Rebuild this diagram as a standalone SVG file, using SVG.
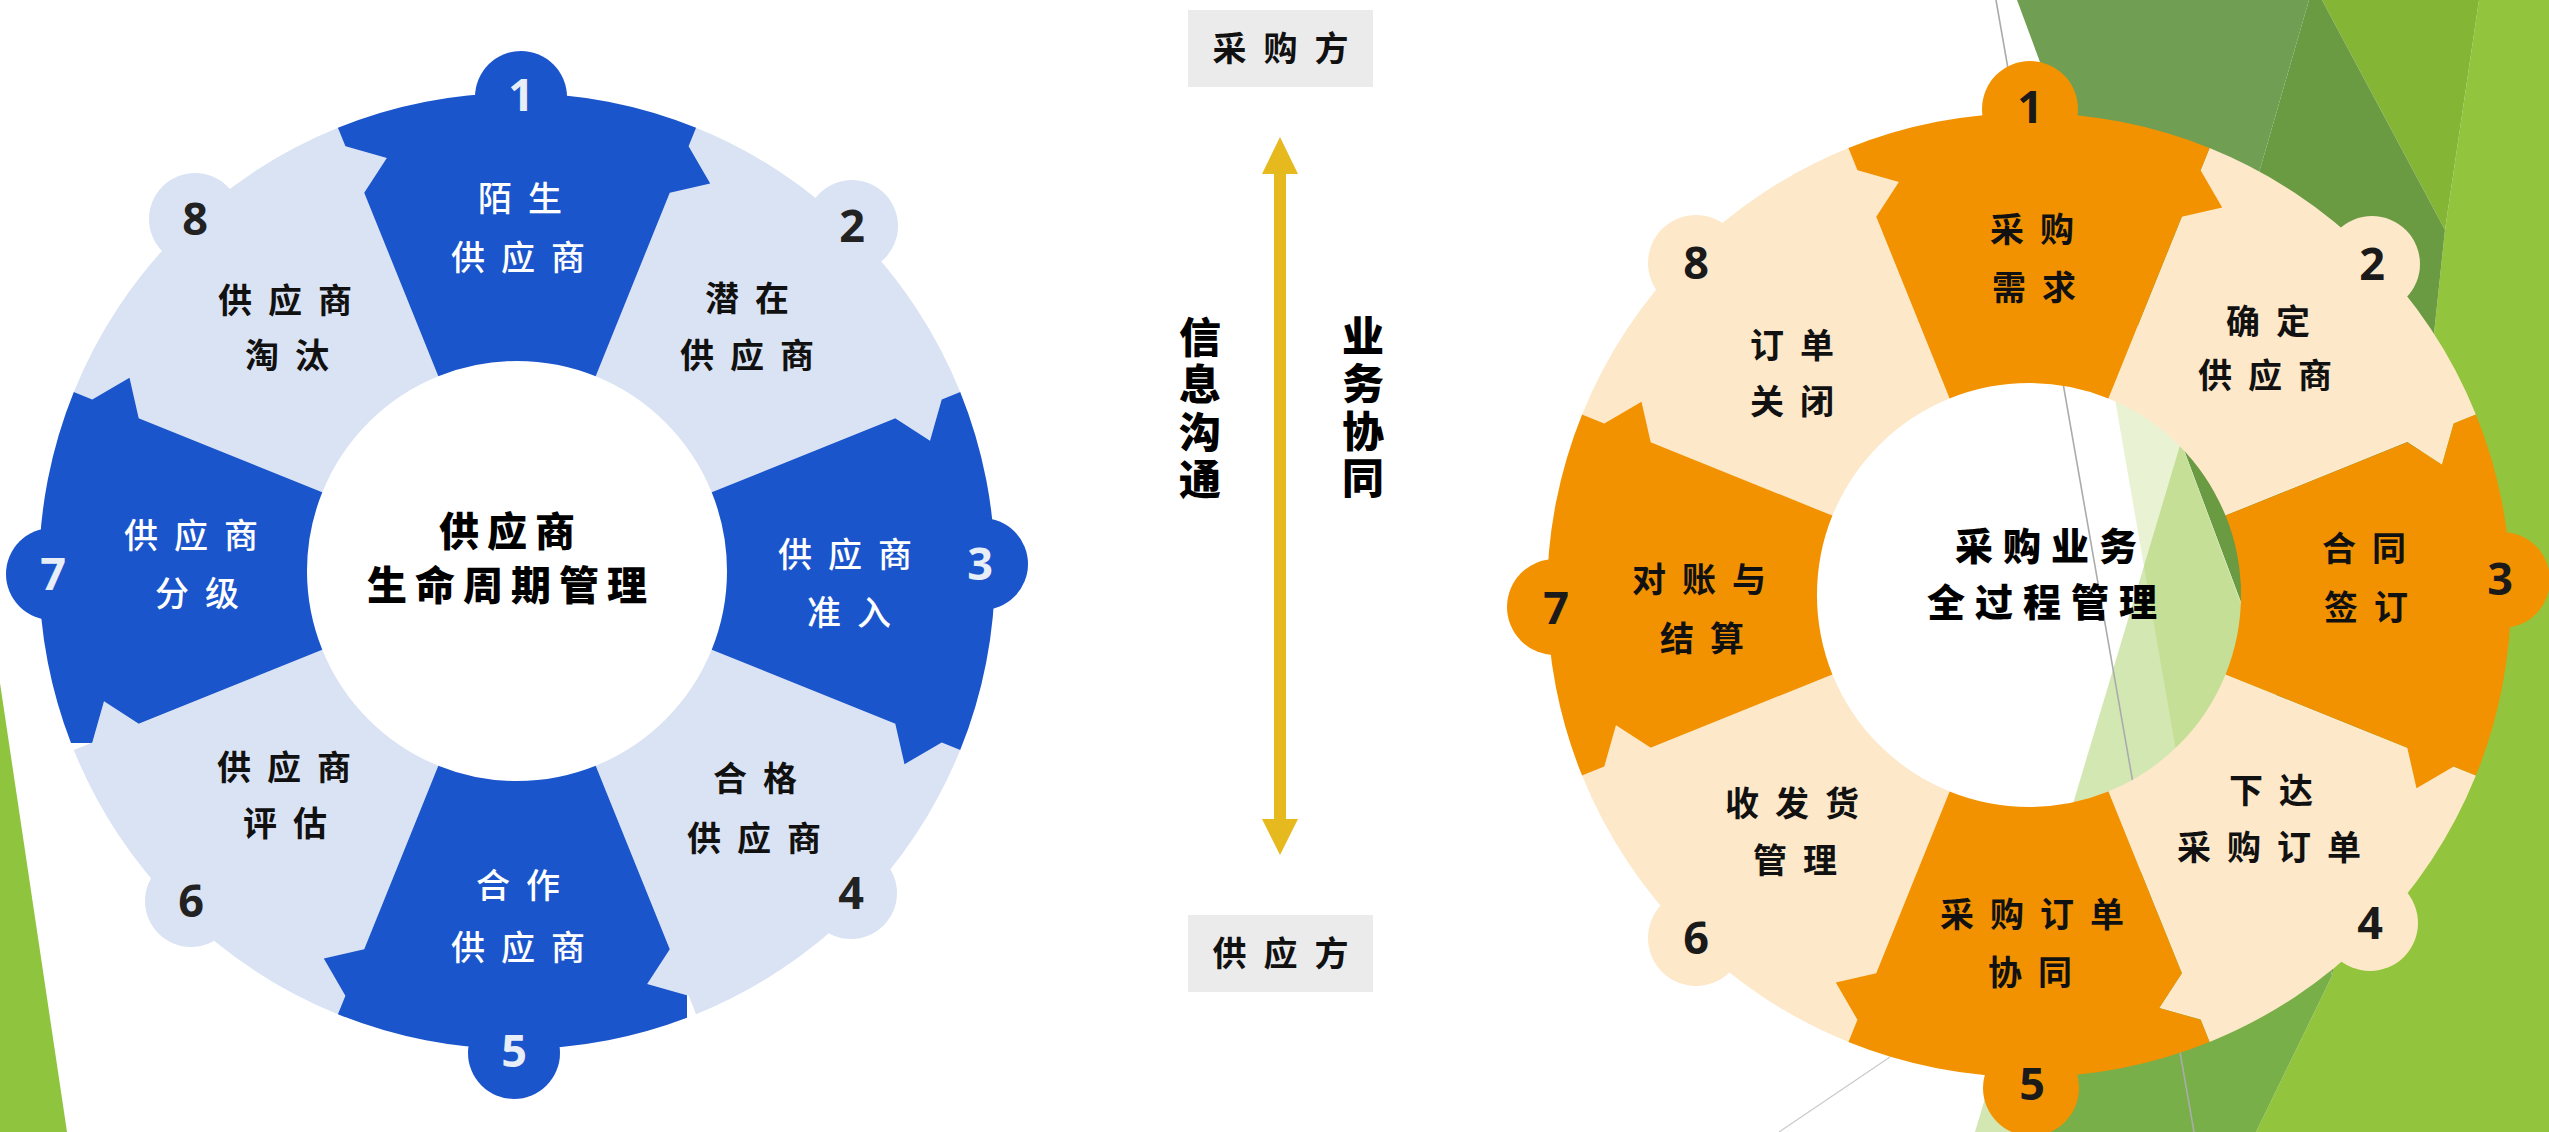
<svg xmlns="http://www.w3.org/2000/svg" width="2549" height="1132" viewBox="0 0 2549 1132">
<style>
.lbl{font-family:"Noto Sans CJK SC","Noto Sans CJK JP",sans-serif;font-size:34px;letter-spacing:16px;text-anchor:middle}
.w{fill:#ffffff;font-weight:500}
.k{fill:#111111;font-weight:700}
.ctr{font-family:"Noto Sans CJK SC","Noto Sans CJK JP",sans-serif;font-weight:900;text-anchor:middle;fill:#000000}
.num{font-family:"Open Sans","Liberation Sans",sans-serif;font-weight:700;font-size:45px;text-anchor:middle}
.vt{font-family:"Noto Sans CJK SC","Noto Sans CJK JP",sans-serif;font-weight:900;font-size:42px;letter-spacing:5.5px;fill:#000000;writing-mode:vertical-rl}
.box{fill:#EBEBEB}
.boxt{font-family:"Noto Sans CJK SC","Noto Sans CJK JP",sans-serif;font-size:34px;letter-spacing:17px;text-anchor:middle;fill:#111111;font-weight:700}
.bd{fill:#1B55CC}.bl{fill:#DAE3F3}
.od{fill:#F39200}.ol{fill:#FDE8C9}
</style>
<defs>
<path id="Ld" d="M-78.7-194.7L-152.8-378.3L-130.2-413L-171.6-424.7L-179.1-443.2A478 478 0 0 1 179.1-443.2L171.6-424.7L193.2-387.5L152.8-378.3L78.7-194.7A210 210 0 0 0-78.7-194.7Z"/>
<path id="Ll" d="M-82-193.3L-186.8-440A478 478 0 0 1 186.8-440L178.9-421.6L199.9-384.1L159.4-375.6L82-193.3A210 210 0 0 0-82-193.3Z"/>
<path id="Rd" d="M-79.4-196.6L-152.8-378.3L-130.2-413L-171.6-424.7L-180.6-446.9A482 482 0 0 1 180.6-446.9L171.6-424.7L193.2-387.5L152.8-378.3L79.4-196.6A212 212 0 0 0-79.4-196.6Z"/>
<path id="Rl" d="M-82.8-195.1L-188.3-443.7A482 482 0 0 1 188.3-443.7L178.9-421.6L199.9-384.1L159.4-375.6L82.8-195.1A212 212 0 0 0-82.8-195.1Z"/>
<clipPath id="cl7"><rect x="0" y="0" width="1100" height="743"/></clipPath>
<clipPath id="cl5"><rect x="0" y="0" width="687" height="1132"/></clipPath>
</defs>

<rect width="2549" height="1132" fill="#ffffff"/>

<g id="background">
<polygon points="0,683 67,1132 0,1132" fill="#8FC43F"/>
<polygon points="2479,0 2549,0 2549,1132 2256,1132 2332,976 2410,560 2445,230" fill="#93C43D"/>
<polygon points="2322,0 2479,0 2445,230" fill="#84B535"/>
<polygon points="2309,0 2322,0 2445,230 2410,560 2332,976 2300,760 2181,442" fill="#6A9B42"/>
<polygon points="2300,760 2332,976 2256,1132 2030,1132 2100,900" fill="#78AF48"/>
<polygon points="2017,0 2309,0 2181,442" fill="#709E52"/>
<polygon points="2181,442 2300,760 2100,900 2030,1132 1975,1132" fill="#D3E7B3"/>
<polygon points="2103,330 2139,330 2306,780 2181,780" fill="#90C226" fill-opacity="0.2"/>
<line x1="1996" y1="0" x2="2194" y2="1132" stroke="#ABABAB" stroke-width="1.6"/>
<line x1="1779" y1="1132" x2="1890" y2="1057" stroke="#CACACA" stroke-width="1.2"/>
</g>

<g id="left-wheel">
<g id="L2">
<use href="#Ll" class="bl" transform="translate(517 571) rotate(45)"/>
<circle cx="852" cy="226" r="46" class="bl"/>
<text class="num" x="852" y="242" fill="#222222">2</text>
<text class="lbl k" x="755" y="311">潜在</text>
<text class="lbl k" x="755" y="368">供应商</text>
</g>
<g id="L4">
<use href="#Ll" class="bl" transform="translate(517 571) rotate(135)"/>
<circle cx="851" cy="893" r="46" class="bl"/>
<text class="num" x="851" y="909" fill="#222222">4</text>
<text class="lbl k" x="763" y="791">合格</text>
<text class="lbl k" x="762" y="851">供应商</text>
</g>
<g id="L6">
<use href="#Ll" class="bl" transform="translate(517 571) rotate(225)"/>
<circle cx="191" cy="901" r="46" class="bl"/>
<text class="num" x="191" y="917" fill="#222222">6</text>
<text class="lbl k" x="292" y="780">供应商</text>
<text class="lbl k" x="293" y="836">评估</text>
</g>
<g id="L8">
<use href="#Ll" class="bl" transform="translate(517 571) rotate(315)"/>
<circle cx="195" cy="219" r="46" class="bl"/>
<text class="num" x="195" y="235" fill="#222222">8</text>
<text class="lbl k" x="293" y="313">供应商</text>
<text class="lbl k" x="295" y="368">淘汰</text>
</g>
<g id="L1">
<use href="#Ld" class="bd" transform="translate(517 571)"/>
<circle cx="521" cy="97" r="46" class="bd"/>
<text class="num" x="521" y="111" fill="#E8EEF8">1</text>
<text class="lbl w" x="528" y="211">陌生</text>
<text class="lbl w" x="526" y="270">供应商</text>
</g>
<g id="L3">
<use href="#Ld" class="bd" transform="translate(517 571) rotate(90)"/>
<circle cx="982" cy="564" r="46" class="bd"/>
<text class="num" x="980" y="580" fill="#E8EEF8">3</text>
<text class="lbl w" x="853" y="567">供应商</text>
<text class="lbl w" x="857" y="625">准入</text>
</g>
<g id="L5">
<g clip-path="url(#cl5)"><use href="#Ld" class="bd" transform="translate(517 571) rotate(180)"/></g>
<circle cx="514" cy="1053" r="46" class="bd"/>
<text class="num" x="514" y="1067" fill="#E8EEF8">5</text>
<text class="lbl w" x="526" y="898">合作</text>
<text class="lbl w" x="526" y="960">供应商</text>
</g>
<g id="L7">
<g clip-path="url(#cl7)"><use href="#Ld" class="bd" transform="translate(517 571) rotate(270)"/></g>
<circle cx="52" cy="574" r="46" class="bd"/>
<text class="num" x="53" y="590" fill="#E8EEF8">7</text>
<text class="lbl w" x="199" y="548">供应商</text>
<text class="lbl w" x="205" y="606">分级</text>
</g>
<g id="L-center">
<text class="ctr" x="511" y="546" font-size="40" letter-spacing="8">供应商</text>
<text class="ctr" x="511" y="600" font-size="40" letter-spacing="8">生命周期管理</text>
</g>
</g>

<g id="buyer">
<rect class="box" x="1188" y="10" width="185" height="77"/>
<text class="boxt" x="1289" y="61">采购方</text>
</g>
<g id="supplier">
<rect class="box" x="1188" y="915" width="185" height="77"/>
<text class="boxt" x="1289" y="966">供应方</text>
</g>
<g id="connectors">
<polygon points="1280,137 1298,174 1286,174 1286,819 1298,819 1280,855 1262,819 1274,819 1274,174 1262,174" fill="#E6B91E"/>
<text class="vt" x="1200" y="316">信息沟通</text>
<text class="vt" x="1363" y="315">业务协同</text>
</g>

<g id="right-wheel">
<g id="R2">
<use href="#Rl" class="ol" transform="translate(2029 595) rotate(45)"/>
<circle cx="2372" cy="264" r="48" class="ol"/>
<text class="num" x="2372" y="280" fill="#1A1A1A">2</text>
<text class="lbl k" x="2276" y="334">确定</text>
<text class="lbl k" x="2273" y="388">供应商</text>
</g>
<g id="R4">
<use href="#Rl" class="ol" transform="translate(2029 595) rotate(135)"/>
<circle cx="2370" cy="923" r="48" class="ol"/>
<text class="num" x="2370" y="939" fill="#1A1A1A">4</text>
<text class="lbl k" x="2279" y="803">下达</text>
<text class="lbl k" x="2277" y="860">采购订单</text>
</g>
<g id="R6">
<use href="#Rl" class="ol" transform="translate(2029 595) rotate(225)"/>
<circle cx="1696" cy="938" r="48" class="ol"/>
<text class="num" x="1696" y="954" fill="#1A1A1A">6</text>
<text class="lbl k" x="1800" y="816">收发货</text>
<text class="lbl k" x="1803" y="873">管理</text>
</g>
<g id="R8">
<use href="#Rl" class="ol" transform="translate(2029 595) rotate(315)"/>
<circle cx="1696" cy="263" r="48" class="ol"/>
<text class="num" x="1696" y="279" fill="#1A1A1A">8</text>
<text class="lbl k" x="1800" y="358">订单</text>
<text class="lbl k" x="1800" y="414">关闭</text>
</g>
<g id="R1">
<use href="#Rd" class="od" transform="translate(2029 595)"/>
<circle cx="2030" cy="109" r="48" class="od"/>
<text class="num" x="2030" y="123" fill="#1A1A1A">1</text>
<text class="lbl k" x="2040" y="242">采购</text>
<text class="lbl k" x="2042" y="300">需求</text>
</g>
<g id="R3">
<use href="#Rd" class="od" transform="translate(2029 595) rotate(90)"/>
<circle cx="2502" cy="580" r="48" class="od"/>
<text class="num" x="2500" y="595" fill="#1A1A1A">3</text>
<text class="lbl k" x="2372" y="561">合同</text>
<text class="lbl k" x="2374" y="620">签订</text>
</g>
<g id="R5">
<use href="#Rd" class="od" transform="translate(2029 595) rotate(180)"/>
<circle cx="2031" cy="1088" r="48" class="od"/>
<text class="num" x="2032" y="1100" fill="#1A1A1A">5</text>
<text class="lbl k" x="2040" y="927">采购订单</text>
<text class="lbl k" x="2038" y="985">协同</text>
</g>
<g id="R7">
<use href="#Rd" class="od" transform="translate(2029 595) rotate(270)"/>
<circle cx="1555" cy="607" r="48" class="od"/>
<text class="num" x="1556" y="624" fill="#1A1A1A">7</text>
<text class="lbl k" x="1707" y="592">对账与</text>
<text class="lbl k" x="1710" y="651">结算</text>
</g>
<g id="R-center">
<text class="ctr" x="2051" y="560" font-size="38" letter-spacing="10">采购业务</text>
<text class="ctr" x="2047" y="616" font-size="38" letter-spacing="10">全过程管理</text>
</g>
</g>
</svg>
